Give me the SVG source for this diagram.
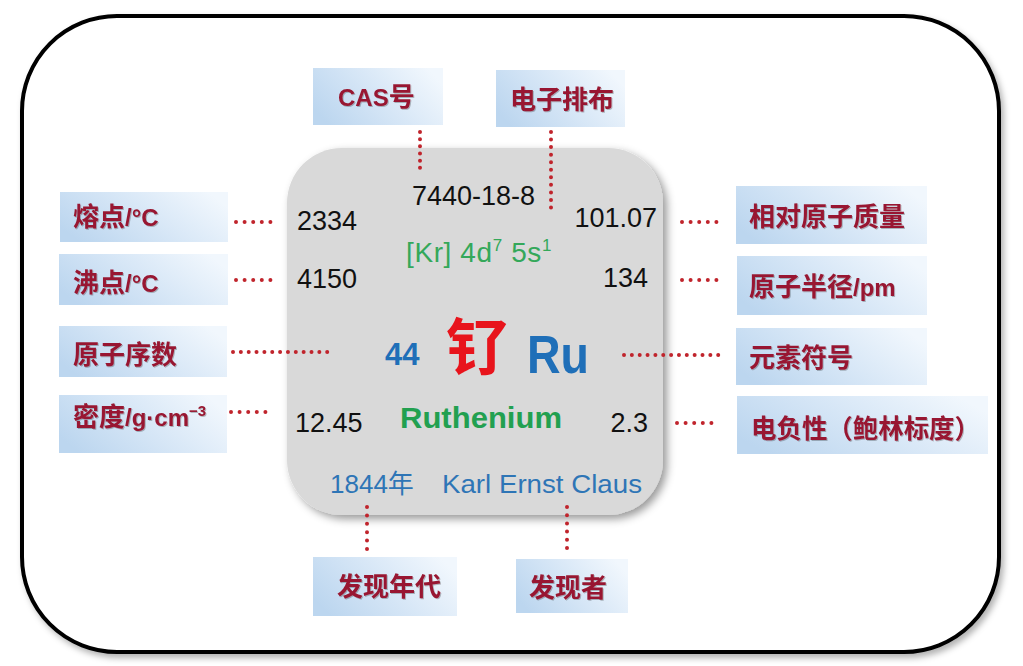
<svg xmlns="http://www.w3.org/2000/svg" width="1023" height="666" viewBox="0 0 1023 666">
<defs>
<linearGradient id="lbl" x1="0" y1="0.7" x2="1" y2="0.3">
<stop offset="0" stop-color="#bcd6ef"/>
<stop offset="0.55" stop-color="#d9e8f7"/>
<stop offset="1" stop-color="#f1f7fd"/>
</linearGradient>
<filter id="sh" x="-10%" y="-10%" width="125%" height="125%">
<feDropShadow dx="3" dy="4" stdDeviation="3" flood-color="#000" flood-opacity="0.3"/>
</filter>
<filter id="shc" x="-10%" y="-10%" width="125%" height="125%">
<feDropShadow dx="4" dy="4" stdDeviation="4" flood-color="#000" flood-opacity="0.4"/>
</filter>
<filter id="tsh" x="-5%" y="-20%" width="115%" height="150%">
<feDropShadow dx="1" dy="1" stdDeviation="0.6" flood-color="#000" flood-opacity="0.25"/>
</filter>
</defs>
<style>
.box{fill:url(#lbl)}
.lt{font-family:"Noto Sans CJK SC","Liberation Sans",sans-serif;font-size:26px;font-weight:bold;fill:#981830;filter:url(#tsh)}
.lt .en{font-family:"Liberation Sans","Noto Sans CJK SC",sans-serif;font-size:24px}
.lt .sup{font-family:"Liberation Sans",sans-serif;font-size:15px}
.num{font-family:"Liberation Sans",Arial,sans-serif;font-size:27px;fill:#111}
.dot{fill:none;stroke:#c0242c;stroke-width:4;stroke-linecap:round}
</style>
<rect width="1023" height="666" fill="#ffffff"/>
<rect id="frame" x="22" y="16" width="977" height="636" rx="95" ry="95" fill="#ffffff" stroke="#000" stroke-width="4" filter="url(#sh)"/>

<g id="center">
<rect x="287" y="148" width="376" height="367" rx="55" ry="55" fill="#d9d9d9" filter="url(#shc)"/>
<text class="num" x="412" y="205">7440-18-8</text>
<text class="num" x="297" y="230">2334</text>
<text class="num" x="657" y="227" text-anchor="end">101.07</text>
<text x="406" y="262" font-family="Liberation Sans, Arial, sans-serif" font-size="28" letter-spacing="0.6" fill="#34a85a">[Kr] 4d<tspan font-size="17" dy="-11">7</tspan><tspan dy="11"> 5s</tspan><tspan font-size="17" dy="-11">1</tspan></text>
<text class="num" x="297" y="288">4150</text>
<text class="num" x="648" y="287" text-anchor="end">134</text>
<text x="385" y="365" font-family="Liberation Sans, Arial, sans-serif" font-size="31" font-weight="bold" fill="#1f6fb8">44</text>
<text x="446" y="370" font-family="Noto Sans CJK SC, sans-serif" font-size="62" font-weight="bold" fill="#e8141c">钌</text>
<text x="527" y="373" font-family="Liberation Sans, Arial, sans-serif" font-size="53" font-weight="bold" fill="#1f6fb8" textLength="62" lengthAdjust="spacingAndGlyphs">Ru</text>
<text x="400" y="428" font-family="Liberation Sans, Arial, sans-serif" font-size="29" font-weight="bold" fill="#22a050" textLength="162" lengthAdjust="spacingAndGlyphs">Ruthenium</text>
<text class="num" x="295" y="432">12.45</text>
<text class="num" x="648" y="432" text-anchor="end">2.3</text>
<text x="330" y="493" font-family="Liberation Sans, Noto Sans CJK SC, sans-serif" font-size="26" fill="#2e75b6">1844年</text>
<text x="442" y="493" font-family="Liberation Sans, Arial, sans-serif" font-size="26" fill="#2e75b6" textLength="200" lengthAdjust="spacingAndGlyphs">Karl Ernst Claus</text>
</g>

<g id="connectors">
<path class="dot" stroke-dasharray="0 8.6" d="M236 222H279"/>
<path class="dot" stroke-dasharray="0 8.6" d="M236 280H279"/>
<path class="dot" stroke-dasharray="0 7.85" d="M233 352H335"/>
<path class="dot" stroke-dasharray="0 8.6" d="M231 412H274"/>
<path class="dot" stroke-dasharray="0 8.6" d="M682 222H725"/>
<path class="dot" stroke-dasharray="0 8.6" d="M682 280H725"/>
<path class="dot" stroke-dasharray="0 7.85" d="M624 355H726"/>
<path class="dot" stroke-dasharray="0 8.6" d="M677 423H720"/>
<path class="dot" stroke-dasharray="0 7.17" d="M420 132V175"/>
<path class="dot" stroke-dasharray="0 7.55" d="M551 132V215"/>
<path class="dot" stroke-dasharray="0 8.4" d="M367 507V549"/>
<path class="dot" stroke-dasharray="0 8.2" d="M567 507V548"/>
</g>

<g id="n-melt"><rect class="box" x="60" y="192" width="168" height="50"/><text class="lt" x="73" y="226">熔点<tspan class="en">/°C</tspan></text></g>
<g id="n-boil"><rect class="box" x="59" y="254" width="169" height="51"/><text class="lt" x="73" y="292">沸点<tspan class="en">/°C</tspan></text></g>
<g id="n-number"><rect class="box" x="59" y="326" width="168" height="51"/><text class="lt" x="73" y="364">原子序数</text></g>
<g id="n-density"><rect class="box" x="59" y="395" width="168" height="58"/><text class="lt" x="73" y="426">密度<tspan class="en">/g·cm</tspan><tspan class="sup" dy="-10">−3</tspan></text></g>

<g id="n-cas"><rect class="box" x="313" y="68" width="130" height="57"/><text class="lt" x="338" y="106"><tspan class="en">CAS</tspan>号</text></g>
<g id="n-config"><rect class="box" x="496" y="70" width="129" height="57"/><text class="lt" x="510" y="109">电子排布</text></g>

<g id="n-mass"><rect class="box" x="736" y="186" width="191" height="58"/><text class="lt" x="749" y="226">相对原子质量</text></g>
<g id="n-radius"><rect class="box" x="737" y="256" width="190" height="59"/><text class="lt" x="749" y="296">原子半径<tspan class="en">/pm</tspan></text></g>
<g id="n-symbol"><rect class="box" x="736" y="328" width="191" height="57"/><text class="lt" x="749" y="367">元素符号</text></g>
<g id="n-electroneg"><rect class="box" x="737" y="396" width="251" height="58"/><text class="lt" x="751" y="438" textLength="229" lengthAdjust="spacingAndGlyphs">电负性（鲍林标度）</text></g>

<g id="n-year"><rect class="box" x="313" y="557" width="144" height="59"/><text class="lt" x="337" y="596">发现年代</text></g>
<g id="n-discoverer"><rect class="box" x="516" y="559" width="112" height="54"/><text class="lt" x="529" y="597">发现者</text></g>
</svg>
